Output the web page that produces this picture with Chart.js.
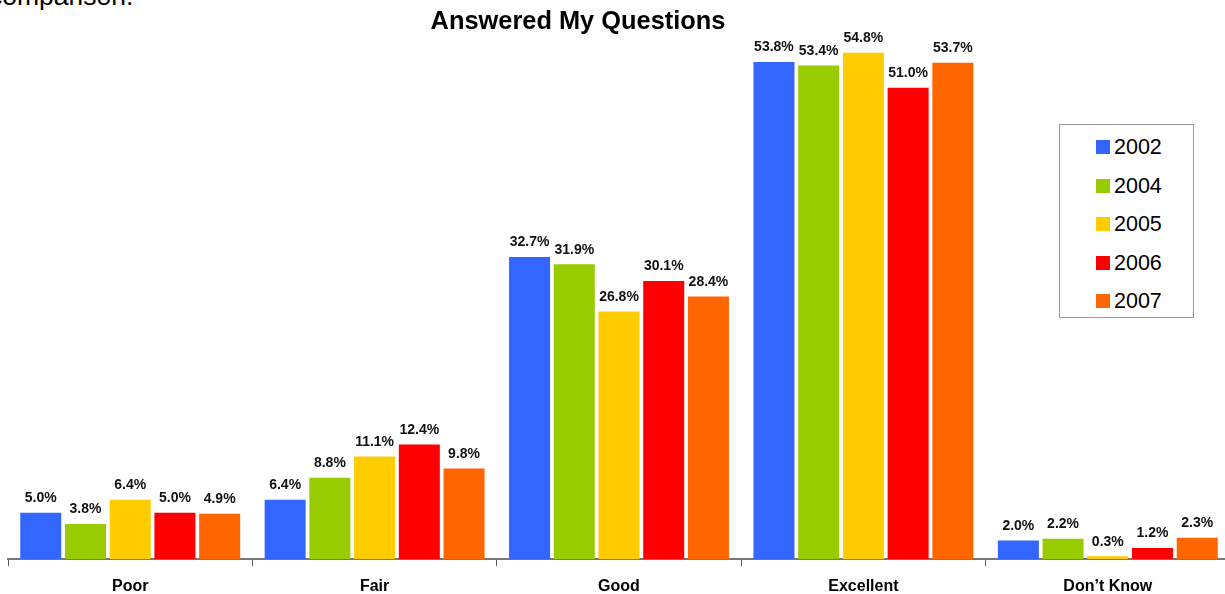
<!DOCTYPE html>
<html>
<head>
<meta charset="utf-8">
<title>Answered My Questions</title>
<script src="https://cdn.jsdelivr.net/npm/chart.js@4.4.1/dist/chart.umd.min.js"></script>
<style>
  html, body { margin: 0; padding: 0; background: #fff; }
  body { width: 1225px; height: 594px; overflow: hidden; position: relative;
         font-family: "Liberation Sans", Arial, Helvetica, sans-serif; }
  #wrap { position: absolute; left: 0; top: 0; width: 1240px; height: 594px; }
  #lead { position: absolute; left: -11px; top: -17px; font-size: 26.5px; line-height: 26.5px;
          color: #000; white-space: nowrap; }
  #title { position: absolute; left: 578px; top: 8px; transform: translateX(-50%);
           font-size: 25.4px; line-height: 25px; font-weight: bold; color: #000; white-space: nowrap; }
  #legend { position: absolute; left: 1059px; top: 124px; width: 133px; height: 192px;
            border: 1px solid #999; background: #fff; }
  .item { position: absolute; left: 36px; height: 24px; display: flex; align-items: center;
          font-size: 21.5px; line-height: 24px; color: #000; }
  .swatch { width: 14px; height: 14px; margin-right: 4px; }
</style>
</head>
<body>
<div id="lead">comparison.</div>
<div id="wrap"><canvas id="chart" width="1240" height="594"></canvas></div>
<div id="title">Answered My Questions</div>
<div id="legend"></div>
<script>
// Response categories and survey years
const categories = ["Poor", "Fair", "Good", "Excellent", "Don\u2019t Know"];
const years = ["2002", "2004", "2005", "2006", "2007"];

// Share of respondents (%) per year, in category order
const values2002 = [5.0, 6.4, 32.7, 53.8, 2.0];
const values2004 = [3.8, 8.8, 31.9, 53.4, 2.2];
const values2005 = [6.4, 11.1, 26.8, 54.8, 0.3];
const values2006 = [5.0, 12.4, 30.1, 51.0, 1.2];
const values2007 = [4.9, 9.8, 28.4, 53.7, 2.3];

const seriesValues = [values2002, values2004, values2005, values2006, values2007];
const seriesColors = ["#3366FF", "#99CC00", "#FFCC00", "#FF0000", "#FF6600"];

const FONT = '"Liberation Sans", Arial, Helvetica, sans-serif';

// Percentage printed above each bar
const valueLabels = {
  id: 'valueLabels',
  afterDatasetsDraw(chart) {
    const ctx = chart.ctx;
    ctx.save();
    ctx.font = 'bold 14px ' + FONT;
    ctx.fillStyle = '#111';
    ctx.textAlign = 'center';
    ctx.textBaseline = 'alphabetic';
    chart.data.datasets.forEach((ds, di) => {
      const meta = chart.getDatasetMeta(di);
      meta.data.forEach((bar, i) => {
        ctx.fillText(ds.data[i].toFixed(1) + '%', bar.x, bar.y - 10.5);
      });
    });
    ctx.restore();
  }
};

new Chart(document.getElementById('chart'), {
  type: 'bar',
  data: {
    labels: categories,
    datasets: years.map((y, k) => ({
      label: y,
      data: seriesValues[k],
      backgroundColor: seriesColors[k],
      borderWidth: 0,
      barPercentage: 0.917,
      categoryPercentage: 0.915
    }))
  },
  options: {
    responsive: false,
    animation: false,
    layout: { padding: { left: 8, right: 10, top: 41.6, bottom: 0 } },
    plugins: { legend: { display: false }, title: { display: false }, tooltip: { enabled: false } },
    scales: {
      x: {
        afterFit(scale) { scale.height = 35; },
        grid: { offset: true, drawOnChartArea: false, drawTicks: true, tickLength: 7,
                color: '#555', lineWidth: 1 },
        border: { display: true, color: '#777', width: 2 },
        ticks: { color: '#000', padding: 11, font: { family: FONT, size: 16, weight: 'bold' } }
      },
      y: {
        display: false,
        min: 0,
        max: 56
      }
    }
  },
  plugins: [valueLabels]
});

// Legend built from the same series names and colours
const legend = document.getElementById('legend');
years.forEach((y, k) => {
  const item = document.createElement('div');
  item.className = 'item';
  item.style.top = (10 + k * 38.6) + 'px';
  const sw = document.createElement('span');
  sw.className = 'swatch';
  sw.style.background = seriesColors[k];
  const tx = document.createElement('span');
  tx.textContent = y;
  item.appendChild(sw);
  item.appendChild(tx);
  legend.appendChild(item);
});
</script>
</body>
</html>
